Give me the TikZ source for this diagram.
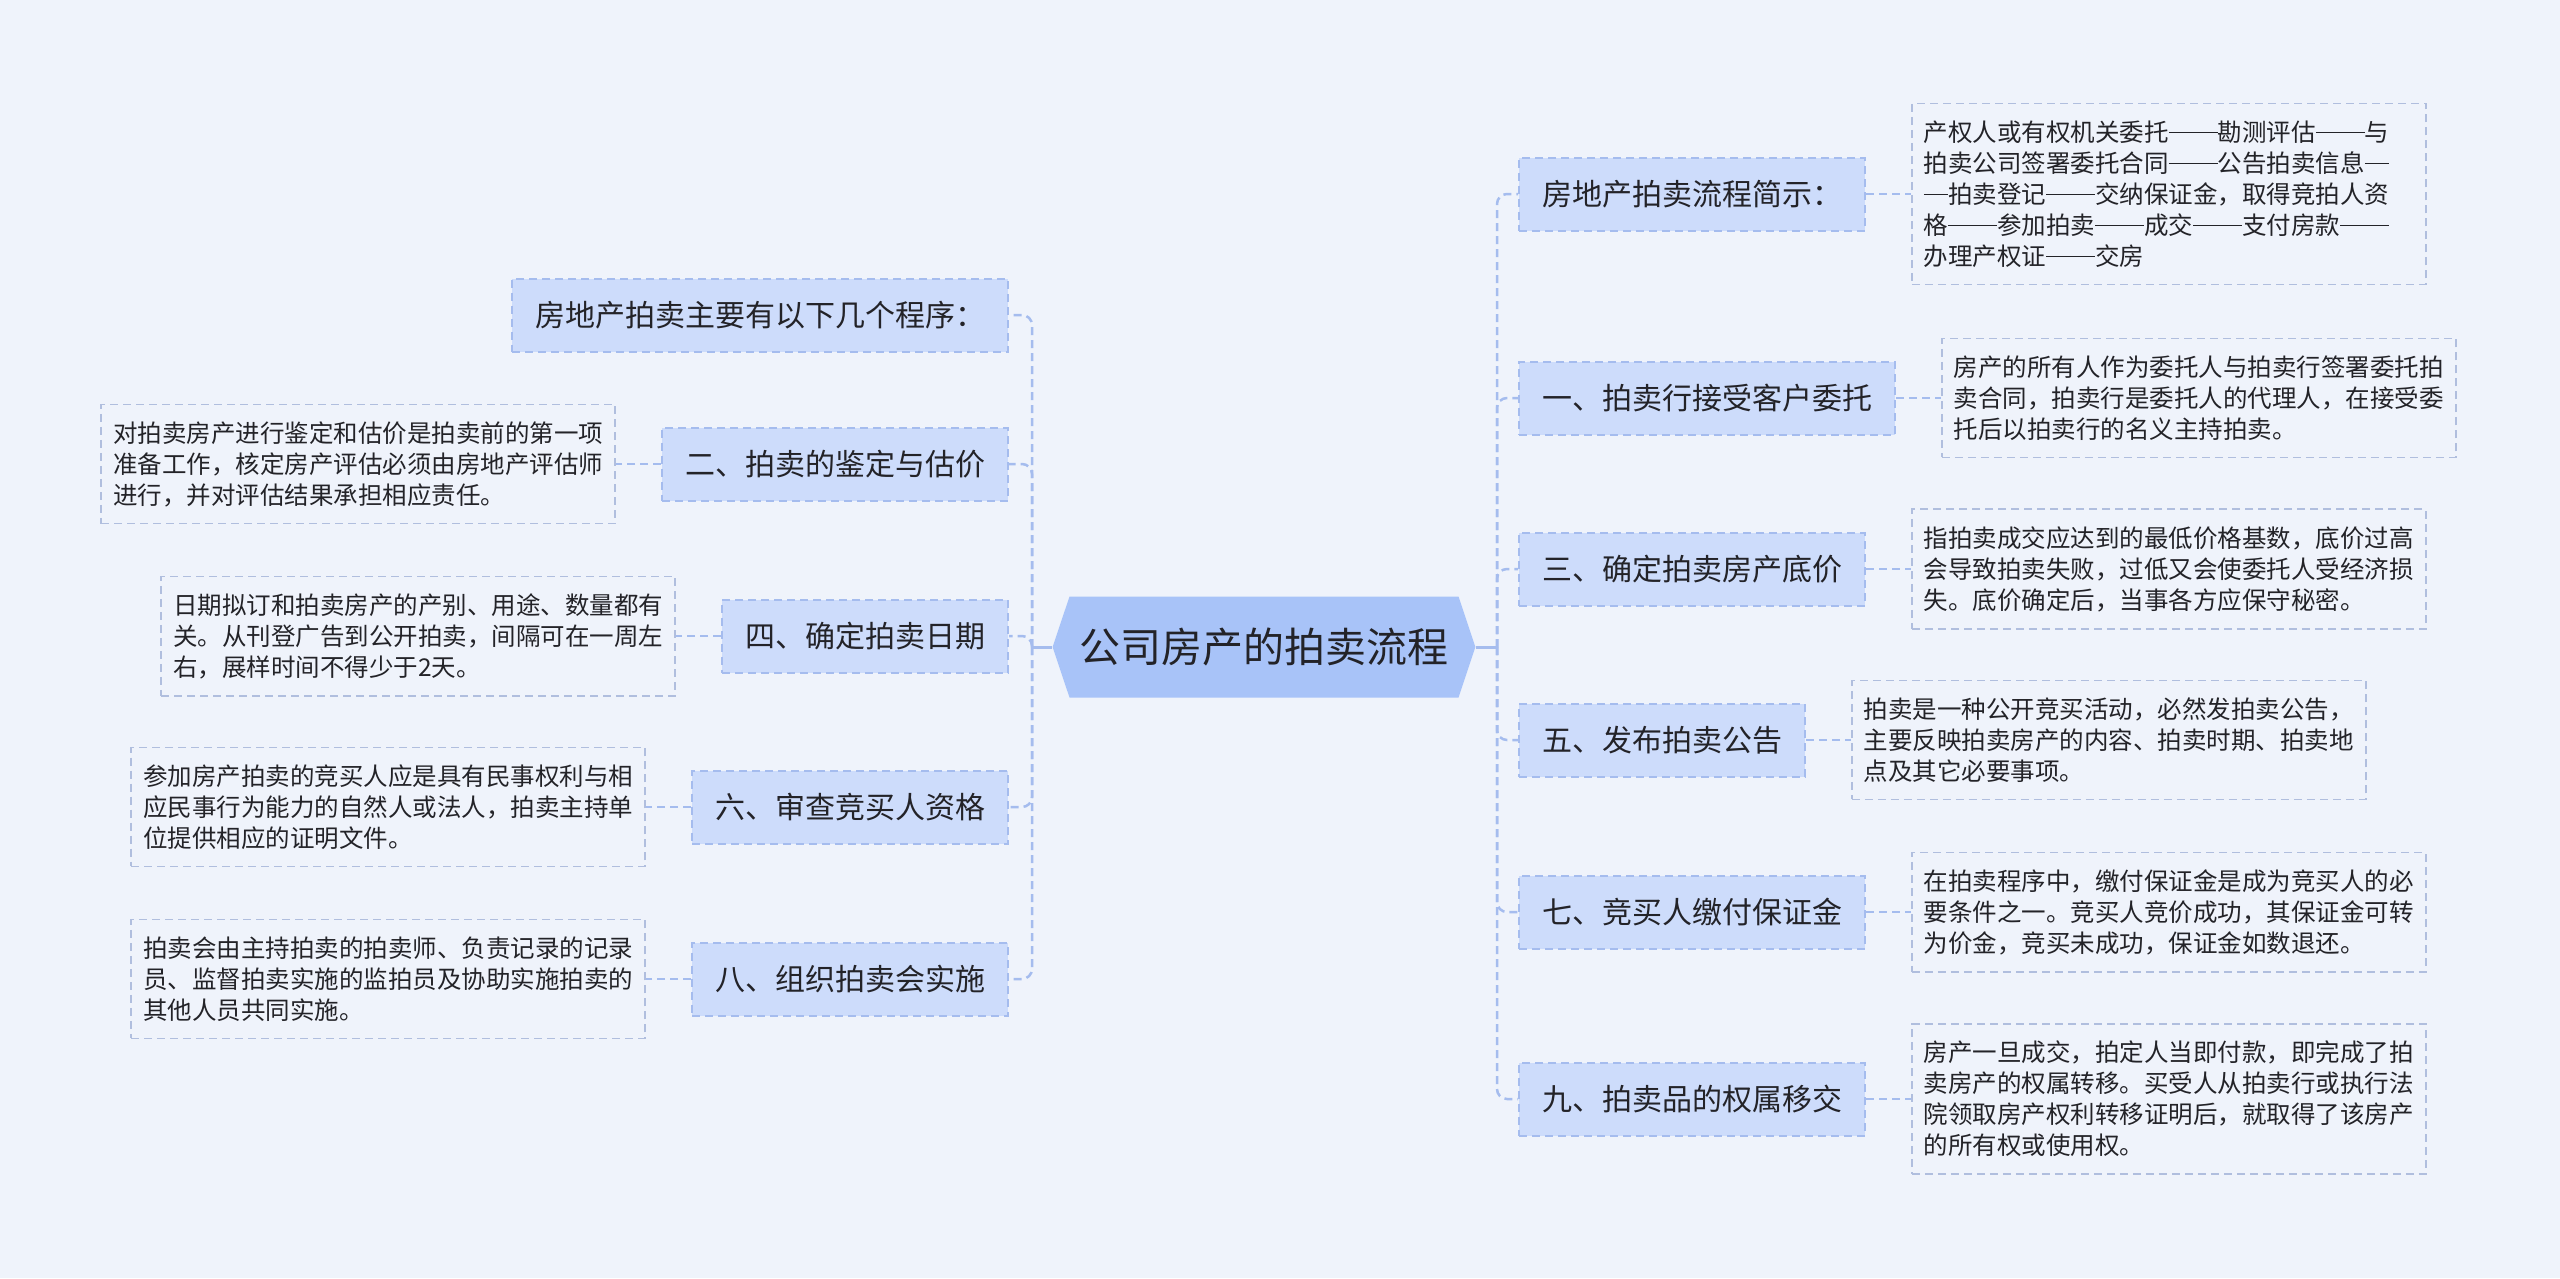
\documentclass[tikz,border=0pt]{standalone}
\usepackage{fontspec}
\setmainfont{Noto Sans CJK SC}
\usetikzlibrary{positioning,shapes.symbols}

\definecolor{mybg}{RGB}{239,243,251}
\definecolor{myroot}{RGB}{168,195,248}
\definecolor{mytopic}{RGB}{205,220,251}
\definecolor{myline}{RGB}{165,188,238}
\definecolor{mynote}{RGB}{176,190,222}
\definecolor{mytext}{RGB}{35,35,40}

% full-width dash, #1 = number of em
\newcommand{\mydash}[1]{\rule[0.33em]{#1em}{0.06em}}

\begin{document}
\begin{tikzpicture}[
    x=1pt, y=-1pt,
    node distance=45pt,
    dashline/.style={dash pattern=on 8pt off 5pt},
    root/.style={signal, signal to=west and east, signal pointer angle=143,
        fill=myroot, text=mytext, minimum height=101pt, minimum width=422pt,
        inner xsep=10pt, font=\fontsize{41}{41}\selectfont},
    topic/.style={draw=myline, dashline, line width=2pt, fill=mytopic,
        text=mytext, minimum height=73pt, inner xsep=23pt,
        font=\fontsize{30}{30}\selectfont},
    note/.style={draw=mynote, dashline, line width=1.6pt, text=mytext,
        align=left, text width=490pt, inner xsep=12pt, inner ysep=17pt,
        font=\fontsize{24.5}{31}\selectfont},
    link/.style={draw=myline, dashline, line width=2.5pt, rounded corners=10pt},
    stub/.style={draw=myline, line width=3pt}
]

% background
\useasboundingbox (0,0) rectangle (2560,1278);
\fill[mybg] (0,0) rectangle (2560,1278);

\node[root] (root) at (1264,647) {公司房产的拍卖流程};

% left topics
\node[topic, anchor=east] (L0) at (1009,315) {房地产拍卖主要有以下几个程序：};
\node[topic, anchor=east] (L1) at (1009,464) {二、拍卖的鉴定与估价};
\node[topic, anchor=east] (L2) at (1009,636) {四、确定拍卖日期};
\node[topic, anchor=east] (L3) at (1009,807) {六、审查竞买人资格};
\node[topic, anchor=east] (L4) at (1009,979) {八、组织拍卖会实施};

% right topics
\node[topic, anchor=west] (R0) at (1518,194) {房地产拍卖流程简示：};
\node[topic, anchor=west] (R1) at (1518,398) {一、拍卖行接受客户委托};
\node[topic, anchor=west] (R2) at (1518,569) {三、确定拍卖房产底价};
\node[topic, anchor=west] (R3) at (1518,740) {五、发布拍卖公告};
\node[topic, anchor=west] (R4) at (1518,912) {七、竞买人缴付保证金};
\node[topic, anchor=west] (R5) at (1518,1099) {九、拍卖品的权属移交};

% notes
\node[note, left=of L1] (L1-n) {对拍卖房产进行鉴定和估价是拍卖前的第一项\\准备工作，核定房产评估必须由房地产评估师\\进行，并对评估结果承担相应责任。};
\node[note, left=of L2] (L2-n) {日期拟订和拍卖房产的产别、用途、数量都有\\关。从刊登广告到公开拍卖，间隔可在一周左\\右，展样时间不得少于2天。};
\node[note, left=of L3] (L3-n) {参加房产拍卖的竞买人应是具有民事权利与相\\应民事行为能力的自然人或法人，拍卖主持单\\位提供相应的证明文件。};
\node[note, left=of L4] (L4-n) {拍卖会由主持拍卖的拍卖师、负责记录的记录\\员、监督拍卖实施的监拍员及协助实施拍卖的\\其他人员共同实施。};
\node[note, right=of R0] (R0-n) {产权人或有权机关委托\mydash{2}勘测评估\mydash{2}与\\拍卖公司签署委托合同\mydash{2}公告拍卖信息\mydash{1}\\\mydash{1}拍卖登记\mydash{2}交纳保证金，取得竞拍人资\\格\mydash{2}参加拍卖\mydash{2}成交\mydash{2}支付房款\mydash{2}\\办理产权证\mydash{2}交房};
\node[note, right=of R1] (R1-n) {房产的所有人作为委托人与拍卖行签署委托拍\\卖合同，拍卖行是委托人的代理人，在接受委\\托后以拍卖行的名义主持拍卖。};
\node[note, right=of R2] (R2-n) {指拍卖成交应达到的最低价格基数，底价过高\\会导致拍卖失败，过低又会使委托人受经济损\\失。底价确定后，当事各方应保守秘密。};
\node[note, right=of R3] (R3-n) {拍卖是一种公开竞买活动，必然发拍卖公告，\\主要反映拍卖房产的内容、拍卖时期、拍卖地\\点及其它必要事项。};
\node[note, right=of R4] (R4-n) {在拍卖程序中，缴付保证金是成为竞买人的必\\要条件之一。竞买人竞价成功，其保证金可转\\为价金，竞买未成功，保证金如数退还。};
\node[note, right=of R5] (R5-n) {房产一旦成交，拍定人当即付款，即完成了拍\\卖房产的权属转移。买受人从拍卖行或执行法\\院领取房产权利转移证明后，就取得了该房产\\的所有权或使用权。};

% trunks
\coordinate (lj) at (1032,647);
\coordinate (rj) at (1497,647);
\draw[stub] (root.west) -- (lj);
\draw[stub] (root.east) -- (rj);
\foreach \n in {L0,L1,L2,L3,L4} {
    \draw[link] (lj) |- (\n.east);
}
\foreach \n in {R0,R1,R2,R3,R4,R5} {
    \draw[link] (rj) |- (\n.west);
}

% note links
\foreach \n in {L1,L2,L3,L4} {
    \draw[link] (\n.west) -- (\n-n.east);
}
\foreach \n in {R0,R1,R2,R3,R4,R5} {
    \draw[link] (\n.east) -- (\n-n.west);
}

\end{tikzpicture}
\end{document}
